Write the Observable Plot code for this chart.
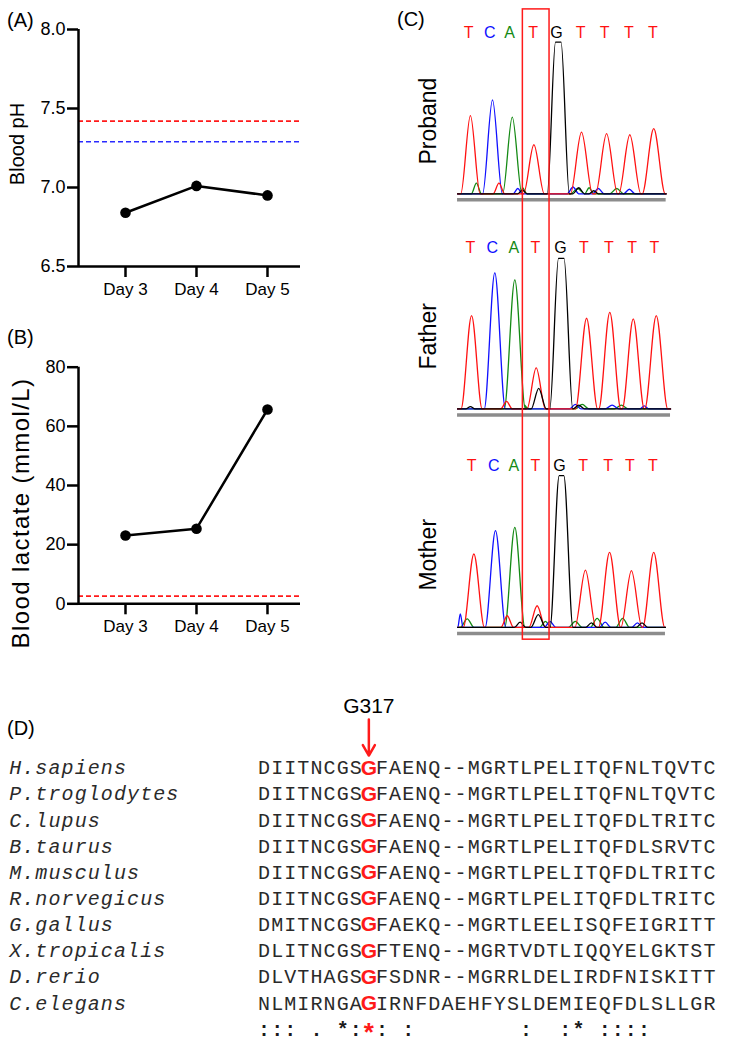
<!DOCTYPE html>
<html><head><meta charset="utf-8">
<script src="https://cdn.jsdelivr.net/npm/d3@7"></script>
<script src="https://cdn.jsdelivr.net/npm/@observablehq/plot@0.6"></script>
<style>
body{margin:0;background:#fff;}
#fig{position:relative;width:732px;height:1050px;font-family:Arial,"Liberation Sans",Helvetica,sans-serif;overflow:hidden;}
.panel{position:absolute;}
.lab{position:absolute;font-size:20px;line-height:20px;color:#000;}
</style></head><body><div id="fig"></div>
<script>
// ---------- Panel A / B data ----------
const days = [3, 4, 5];
const dayLabels = ["Day 3", "Day 4", "Day 5"];
const bloodPH = [6.84, 7.01, 6.95];
const pHTicks = [6.5, 7.0, 7.5, 8.0];
const pHRefRed = 7.42;
const pHRefBlue = 7.29;
const bloodLactate = [23.1, 25.4, 65.7];
const lactateTicks = [0, 20, 40, 60, 80];
const lactateRefRed = 2.6;

// ---------- Panel C data ----------
const samples = ["Proband", "Father", "Mother"];
const baseCalls = ["T", "C", "A", "T", "G", "T", "T", "T", "T"];
const probandCallX = [-0.04, 0.88, 1.74, 2.77, 3.78, 4.83, 5.88, 6.93, 7.97];
const fatherCallX = [0.04, 0.99, 1.93, 2.87, 3.96, 4.97, 6.06, 7.07, 8.04];
const motherCallX = [0.09, 1.06, 1.93, 2.87, 3.91, 4.94, 6.03, 6.97, 7.97];
// peaks: [channel, centre (base units), height, half width, plateau half width]
const probandPeaks = [
  ["T", 0.04, 517, 0.42, 0], ["C", 1.0, 620, 0.43, 0], ["A", 1.86, 506, 0.42, 0],
  ["T", 2.8, 324, 0.45, 0], ["G", 3.86, 1002, 0.48, 0.12], ["T", 4.87, 407, 0.48, 0],
  ["T", 5.96, 397, 0.48, 0], ["T", 6.97, 390, 0.48, 0], ["T", 8.01, 430, 0.5, 0],
  ["A", 0.3, 70, 0.22, 0], ["T", 1.28, 70, 0.25, 0], ["C", 2.1, 35, 0.2, 0],
  ["C", 4.5, 45, 0.25, 0], ["C", 5.6, 35, 0.25, 0], ["C", 6.95, 30, 0.25, 0],
  ["A", 2.3, 40, 0.2, 0], ["A", 4.7, 35, 0.3, 0], ["A", 5.2, 40, 0.2, 0], ["A", 6.4, 35, 0.3, 0],
  ["G", 2.3, 25, 0.2, 0], ["G", 4.75, 40, 0.25, 0], ["G", 5.4, 20, 0.2, 0]
];
const fatherPeaks = [
  ["T", 0.09, 617, 0.46, 0], ["C", 1.1, 899, 0.46, 0], ["A", 1.97, 853, 0.46, 0],
  ["T", 2.9, 271, 0.4, 0], ["G", 3.01, 136, 0.33, 0], ["G", 3.99, 995, 0.5, 0.12],
  ["T", 5.09, 599, 0.48, 0], ["T", 6.1, 638, 0.48, 0], ["T", 7.12, 595, 0.48, 0], ["T", 8.12, 617, 0.5, 0],
  ["T", 1.61, 50, 0.25, 0], ["G", 0.04, 15, 0.2, 0], ["G", 4.75, 25, 0.25, 0],
  ["A", 2.4, 25, 0.2, 0], ["A", 4.9, 30, 0.3, 0], ["A", 6.6, 25, 0.3, 0],
  ["C", 4.6, 30, 0.25, 0], ["C", 6.2, 25, 0.3, 0], ["C", 7.6, 20, 0.2, 0]
];
const motherPeaks = [
  ["T", 0.19, 485, 0.46, 0], ["C", 1.13, 639, 0.45, 0], ["A", 1.97, 661, 0.44, 0],
  ["T", 2.94, 143, 0.36, 0], ["G", 2.99, 84, 0.32, 0], ["G", 4.0, 1003, 0.5, 0.1],
  ["T", 5.04, 379, 0.46, 0], ["T", 6.09, 496, 0.48, 0], ["T", 7.04, 375, 0.46, 0], ["T", 8.01, 496, 0.48, 0],
  ["T", 1.64, 77, 0.27, 0], ["A", -0.1, 57, 0.3, 0], ["A", 5.55, 60, 0.3, 0], ["A", 6.66, 60, 0.3, 0],
  ["A", 3.3, 40, 0.25, 0], ["A", 4.6, 40, 0.3, 0], ["C", -0.4, 90, 0.12, 0],
  ["C", 3.5, 40, 0.25, 0], ["C", 5.9, 35, 0.25, 0], ["C", 7.3, 30, 0.25, 0],
  ["G", 2.2, 35, 0.25, 0], ["G", 5.3, 30, 0.25, 0], ["G", 7.5, 30, 0.25, 0]
];
const traceStart = [-0.52, -0.52, -0.52];
const traceEnd = [8.55, 8.74, 8.52];
const mutationBox = {x1: 2.32, x2: 3.48, topV: 1218, bottomV: -81};

// ---------- Panel D data ----------
const species = ["H.sapiens", "P.troglodytes", "C.lupus", "B.taurus", "M.musculus",
  "R.norvegicus", "G.gallus", "X.tropicalis", "D.rerio", "C.elegans"];
const sequences = [
  "DIITNCGSGFAENQ--MGRTLPELITQFNLTQVTC",
  "DIITNCGSGFAENQ--MGRTLPELITQFNLTQVTC",
  "DIITNCGSGFAENQ--MGRTLPELITQFDLTRITC",
  "DIITNCGSGFAENQ--MGRTLPELITQFDLSRVTC",
  "DIITNCGSGFAENQ--MGRTLPELITQFDLTRITC",
  "DIITNCGSGFAENQ--MGRTLPELITQFDLTRITC",
  "DMITNCGSGFAEKQ--MGRTLEELISQFEIGRITT",
  "DLITNCGSGFTENQ--MGRTVDTLIQQYELGKTST",
  "DLVTHAGSGFSDNR--MGRRLDELIRDFNISKITT",
  "NLMIRNGAGIRNFDAEHFYSLDEMIEQFDLSLLGR"
];
const consensus = "::: . *:*: :        :  :* ::::";
const mutationColumn = 8;
const mutationLabel = "G317";

// ---------- helpers ----------
const FONT = "Arial, 'Liberation Sans', Helvetica, sans-serif";
const MONO = "'Courier New', 'Liberation Mono', monospace";
const fig = document.getElementById("fig");
function place(node, left, top) {
  const d = document.createElement("div");
  d.className = "panel"; d.style.left = left + "px"; d.style.top = top + "px";
  d.appendChild(node); fig.appendChild(d);
}
function label(text, left, top) {
  const d = document.createElement("div");
  d.className = "lab"; d.style.left = left + "px"; d.style.top = top + "px";
  d.textContent = text; fig.appendChild(d);
}

// ---------- Panels A & B ----------
const xDomain = [2.338, 5.465];
function timeCourse({values, yDomain, yTicks, yFormat, refs, yLabel, labelSize, labelShift, labelX, spacing, mt, mb}) {
  const rows = days.map((d, i) => ({day: d, v: values[i]}));
  const svg = Plot.plot({
    width: 310, height: 300,
    marginLeft: 78, marginRight: 10, marginTop: mt, marginBottom: mb,
    x: {domain: xDomain},
    y: {domain: yDomain},
    style: {background: "transparent", fontFamily: FONT, fontSize: "18px", color: "#000", overflow: "visible"},
    marks: [
      ...refs.map(r => Plot.ruleY([r.v], {stroke: r.color, strokeWidth: 1.6, strokeDasharray: "5,3"})),
      Plot.axisY({ticks: yTicks, tickSize: 11, tickPadding: 2, tickFormat: yFormat, strokeWidth: 2.5, label: null, fontSize: 18}),
      Plot.axisX({ticks: days, tickSize: 11, tickPadding: 5, tickFormat: d => dayLabels[days.indexOf(d)], strokeWidth: 2.5, label: null, fontSize: 17}),
      Plot.ruleX([xDomain[0]], {strokeWidth: 2.5}),
      Plot.ruleY([yDomain[0]], {strokeWidth: 2.5}),
      Plot.line(rows, {x: "day", y: "v", strokeWidth: 2.5}),
      Plot.dot(rows, {x: "day", y: "v", r: 5.3, fill: "#000", stroke: "none"}),
      Plot.text([yLabel], {frameAnchor: "left", textAnchor: "middle", dx: labelX - 78, dy: labelShift, rotate: -90, fontSize: labelSize, fontFamily: FONT})
    ]
  });
  if (spacing) {
    svg.querySelectorAll("text").forEach(t => {
      if (t.textContent.trim() === yLabel) {
        t.setAttribute("letter-spacing", spacing);
        t.style.letterSpacing = spacing + "px";
      }
    });
  }
  return svg;
}
place(timeCourse({
  values: bloodPH, yDomain: [6.5, 8.0], yTicks: pHTicks, yFormat: d3.format(".1f"),
  refs: [{v: pHRefRed, color: "#ff1a1a"}, {v: pHRefBlue, color: "#2a2aff"}],
  yLabel: "Blood pH", labelSize: 20, labelShift: -4, labelX: 17.5, spacing: 0, mt: 29, mb: 34
}), 0, 0);
place(timeCourse({
  values: bloodLactate, yDomain: [0, 80], yTicks: lactateTicks, yFormat: d3.format("d"),
  refs: [{v: lactateRefRed, color: "#ff1a1a"}],
  yLabel: "Blood lactate (mmol/L)", labelSize: 24, labelShift: 27.5, labelX: 21, spacing: 1.4, mt: 26.7, mb: 36.7
}), 0, 340);

// ---------- Panel C ----------
const laneOffset = [0, -1421, -2864];
const channelColor = {T: "#ff1111", C: "#1010ff", A: "#148a14", G: "#000000"};
const allPeaks = [probandPeaks, fatherPeaks, motherPeaks];
const callX = [probandCallX, fatherCallX, motherCallX];
function buildTraces(peaks, lane) {
  const out = [];
  for (const ch of ["A", "C", "G", "T"]) {
    const ps = peaks.filter(p => p[0] === ch).sort((a, b) => a[1] - b[1]);
    const pts = [];
    let last = traceStart[lane];
    pts.push([last, 0]);
    for (const [, c, v, w, p] of ps) {
      let l = Math.max(c - w, last + 0.01);
      if (l > last) { pts.push([l, 0]); }
      if (p > 0) { pts.push([c - p, v]); pts.push([c + p, v]); }
      else pts.push([c, v]);
      const r = c + w; pts.push([r, 0]); last = r;
    }
    if (traceEnd[lane] > last) pts.push([traceEnd[lane], 0]);
    pts.forEach(([x, v]) => out.push({lane, ch, key: lane + ch, x, y: laneOffset[lane] + v}));
  }
  return out;
}
const traceRows = allPeaks.flatMap((p, i) => buildTraces(p, i));
const callRows = callX.flatMap((xs, lane) => xs.map((x, k) => ({lane, b: baseCalls[k], x, y: laneOffset[lane] + 1066})));
const barRows = samples.map((s, lane) => ({lane, x1: traceStart[lane], x2: traceEnd[lane], y: laneOffset[lane] - 40}));
const boxRows = [{x1: mutationBox.x1, x2: mutationBox.x2, y1: mutationBox.topV, y2: laneOffset[2] + mutationBox.bottomV}];

const panelC = Plot.plot({
  width: 300, height: 650,
  marginLeft: 28, marginRight: 0, marginTop: 0, marginBottom: 0,
  x: {domain: [0, 8], range: [69, 253], axis: null},
  y: {domain: [0, 1000], range: [193.3, 41.9], axis: null},
  color: {type: "identity"},
  style: {background: "transparent", fontFamily: FONT, overflow: "visible"},
  marks: [
    Plot.ruleY(barRows, {x1: "x1", x2: "x2", y: "y", stroke: "#8c8c8c", strokeWidth: 3.5}),
    ...["A", "C", "T", "G"].map(ch => Plot.line(traceRows.filter(d => d.ch === ch), {
      x: "x", y: "y", z: "key", stroke: channelColor[ch], strokeWidth: 1.3, curve: "monotone-x"})),
    Plot.text(callRows, {x: "x", y: "y", text: "b", fill: d => channelColor[d.b], fontSize: 16, fontFamily: FONT}),
    Plot.rect(boxRows, {x1: "x1", x2: "x2", y1: "y1", y2: "y2", fill: "none", stroke: "#ff1a1a", strokeWidth: 1.5}),
    Plot.text(samples, {frameAnchor: "left", textAnchor: "middle", y: (d, i) => laneOffset[i] + 480, text: d => d, rotate: -90, fontSize: 23, fontFamily: FONT, fill: "#000"})
  ]
});
place(panelC, 400, 0);

// ---------- Panel D ----------
const nameChars = [], seqChars = [], redChars = [], consChars = [], redCons = [];
species.forEach((name, r) => {
  [...name].forEach((ch, k) => nameChars.push({r, c: -19 + k, ch}));
  [...sequences[r]].forEach((ch, c) => (c === mutationColumn ? redChars : seqChars).push({r, c, ch}));
});
[...consensus].forEach((ch, c) => {
  if (ch === " ") return;
  (c === mutationColumn ? redCons : consChars).push({r: species.length, c, ch});
});
const panelD = Plot.plot({
  width: 732, height: 370,
  margin: 0,
  x: {domain: [0, 1], range: [263.55, 276.65], axis: null},
  y: {domain: [0, 1], range: [87.3, 113.45], axis: null},
  style: {background: "transparent", overflow: "visible"},
  marks: [
    Plot.text(nameChars, {x: "c", y: "r", text: "ch", fontSize: 20, fontFamily: MONO, fontStyle: "italic", fill: "#2a2a2a"}),
    Plot.text(seqChars, {x: "c", y: "r", text: "ch", fontSize: 20, fontFamily: MONO, fill: "#2a2a2a"}),
    Plot.text(redChars, {x: "c", y: "r", text: "ch", fontSize: 21, fontFamily: FONT, fontWeight: "bold", fill: "#ff1a1a"}),
    Plot.text(consChars, {x: "c", y: "r", text: "ch", fontSize: 20, fontFamily: MONO, fontWeight: "bold", fill: "#1a1a1a"}),
    Plot.text(redCons, {x: "c", y: "r", text: "ch", fontSize: 26, fontFamily: MONO, fontWeight: "bold", fill: "#ff1a1a", dy: 4}),
    Plot.text([mutationLabel], {x: mutationColumn, y: -2.34, fontSize: 21, fontFamily: FONT, fill: "#000"}),
    Plot.arrow([{c: mutationColumn}], {x1: "c", x2: "c", y1: -1.85, y2: -0.47, stroke: "#ff1a1a", strokeWidth: 2.5, headLength: 12})
  ]
});
place(panelD, 0, 680);

// ---------- panel letters ----------
label("(A)", 7, 10);
label("(B)", 7, 327);
label("(C)", 397, 9);
label("(D)", 7, 718);
</script></body></html>
